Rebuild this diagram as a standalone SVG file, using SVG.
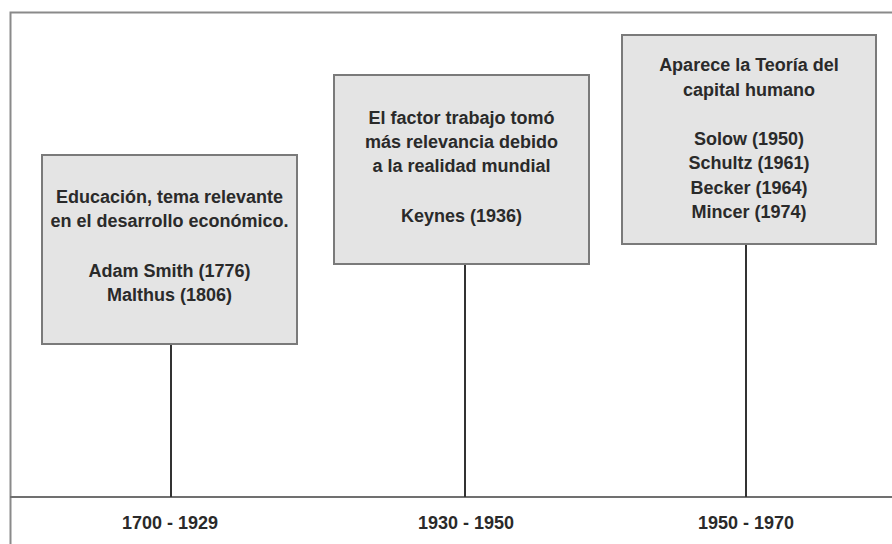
<svg xmlns="http://www.w3.org/2000/svg" width="892" height="544" viewBox="0 0 892 544">
<style>
.frame{fill:none;stroke:#8a8a8a;stroke-width:2}
.box{fill:#e4e4e4;stroke:#7a7a7a;stroke-width:2}
.axis{stroke:#707070;stroke-width:2;fill:none}
.stem{stroke:#333;stroke-width:2;fill:none}
text{font-family:"Liberation Sans Narrow","Liberation Sans",Arial,sans-serif;font-weight:bold;fill:#2a2a2a;text-anchor:middle}
.t{font-size:18px}
</style>
<rect width="892" height="544" fill="#fff"/>
<path class="frame" d="M10.5 560 V12.5 H900"/>
<g id="connectors">
<line class="axis" x1="10" y1="497" x2="892" y2="497"/>
<line class="stem" x1="171" y1="344" x2="171" y2="497"/>
<line class="stem" x1="465" y1="264" x2="465" y2="497"/>
<line class="stem" x1="746" y1="244" x2="746" y2="497"/>
</g>
<g id="node1">
<rect class="box" x="42" y="155" width="255" height="189"/>
<text class="t" x="169.5" y="203">Educación, tema relevante</text>
<text class="t" x="169.5" y="227">en el desarrollo económico.</text>
<text class="t" x="169.5" y="277">Adam Smith (1776)</text>
<text class="t" x="169.5" y="301">Malthus (1806)</text>
</g>
<g id="node2">
<rect class="box" x="334" y="75" width="255" height="189"/>
<text class="t" x="461.5" y="124">El factor trabajo tomó</text>
<text class="t" x="461.5" y="148">más relevancia debido</text>
<text class="t" x="461.5" y="172">a la realidad mundial</text>
<text class="t" x="461.5" y="222">Keynes (1936)</text>
</g>
<g id="node3">
<rect class="box" x="622" y="35" width="254" height="209"/>
<text class="t" x="749" y="71">Aparece la Teoría del</text>
<text class="t" x="749" y="96">capital humano</text>
<text class="t" x="749" y="145">Solow (1950)</text>
<text class="t" x="749" y="169">Schultz (1961)</text>
<text class="t" x="749" y="194">Becker (1964)</text>
<text class="t" x="749" y="218">Mincer (1974)</text>
</g>
<g id="labels">
<text class="t" x="170" y="529">1700 - 1929</text>
<text class="t" x="466" y="529">1930 - 1950</text>
<text class="t" x="746" y="529">1950 - 1970</text>
</g>
</svg>
